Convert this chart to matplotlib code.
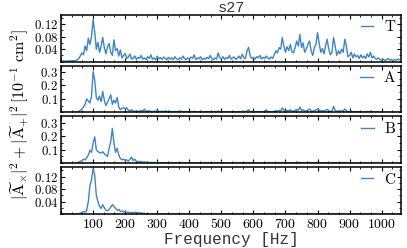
import numpy as np
import matplotlib
matplotlib.use("Agg")
import matplotlib.pyplot as plt
from matplotlib.ticker import MultipleLocator, AutoMinorLocator, FuncFormatter

plt.rcParams['mathtext.fontset'] = 'cm'
plt.rcParams['font.family'] = ['DejaVu Serif']

# frequency grid (Hz), 5 Hz spacing, 0..1055
freq = np.arange(0, 1060, 5)

T = [
 0.002, 0.002, 0.002, 0.002, 0.002, 0.002, 0.003, 0.002, 0.003, 0.004,
 0.006, 0.010, 0.018, 0.028, 0.022, 0.050, 0.035, 0.075, 0.055, 0.080,
 0.134, 0.095, 0.040, 0.062, 0.030, 0.050, 0.078, 0.045, 0.025, 0.048,
 0.058, 0.030, 0.020, 0.070, 0.035, 0.042, 0.018, 0.038, 0.012, 0.020,
 0.026, 0.010, 0.015, 0.024, 0.008, 0.012, 0.018, 0.007, 0.014, 0.010,
 0.020, 0.008, 0.012, 0.006, 0.016, 0.010, 0.022, 0.008, 0.012, 0.006,
 0.018, 0.009, 0.013, 0.007, 0.015, 0.010, 0.006, 0.014, 0.008, 0.012,
 0.007, 0.016, 0.009, 0.006, 0.013, 0.008, 0.018, 0.010, 0.006, 0.012,
 0.008, 0.015, 0.010, 0.022, 0.007, 0.012, 0.009, 0.016, 0.006, 0.011,
 0.008, 0.014, 0.009, 0.020, 0.010, 0.006, 0.012, 0.008, 0.028, 0.012,
 0.009, 0.016, 0.007, 0.013, 0.010, 0.020, 0.008, 0.012, 0.015, 0.007,
 0.012, 0.018, 0.009, 0.024, 0.012, 0.010, 0.035, 0.046, 0.018, 0.010,
 0.014, 0.008, 0.016, 0.012, 0.020, 0.009, 0.014, 0.010, 0.018, 0.012,
 0.008, 0.015, 0.010, 0.022, 0.035, 0.028, 0.045, 0.040, 0.077, 0.050,
 0.030, 0.048, 0.035, 0.055, 0.032, 0.028, 0.045, 0.066, 0.050, 0.087,
 0.045, 0.060, 0.030, 0.040, 0.055, 0.066, 0.035, 0.020, 0.045, 0.055,
 0.093, 0.060, 0.030, 0.042, 0.025, 0.050, 0.072, 0.040, 0.022, 0.030,
 0.077, 0.050, 0.020, 0.035, 0.025, 0.040, 0.030, 0.072, 0.050, 0.015,
 0.020, 0.030, 0.012, 0.025, 0.015, 0.020, 0.010, 0.022, 0.012, 0.018,
 0.010, 0.025, 0.015, 0.030, 0.012, 0.018, 0.010, 0.008, 0.012, 0.006,
 0.005, 0.008, 0.004, 0.006, 0.010, 0.005, 0.007, 0.004, 0.006, 0.005,
 0.008, 0.006,
]

A = [
 0.000, 0.000, 0.000, 0.000, 0.000, 0.000, 0.000, 0.000, 0.002, 0.003,
 0.005, 0.008, 0.015, 0.025, 0.040, 0.060, 0.100, 0.085, 0.070, 0.120,
 0.300, 0.240, 0.110, 0.090, 0.120, 0.080, 0.155, 0.090, 0.050, 0.075,
 0.100, 0.130, 0.060, 0.090, 0.070, 0.110, 0.040, 0.020, 0.030, 0.035,
 0.025, 0.035, 0.015, 0.012, 0.020, 0.010, 0.008, 0.012, 0.006, 0.010,
 0.015, 0.008, 0.025, 0.010, 0.006, 0.012, 0.008, 0.005, 0.010, 0.006,
 0.018, 0.008, 0.006, 0.010, 0.005, 0.012, 0.007, 0.005, 0.009, 0.006,
 0.005, 0.008, 0.004, 0.007, 0.005, 0.010, 0.006, 0.004, 0.008, 0.005,
 0.004, 0.007, 0.005, 0.009, 0.004, 0.006, 0.005, 0.008, 0.004, 0.006,
 0.005, 0.007, 0.004, 0.006, 0.005, 0.004, 0.007, 0.005, 0.010, 0.005,
 0.004, 0.006, 0.004, 0.007, 0.005, 0.006, 0.004, 0.005, 0.006, 0.004,
 0.005, 0.007, 0.004, 0.008, 0.005, 0.004, 0.012, 0.020, 0.007, 0.005,
 0.006, 0.004, 0.007, 0.005, 0.008, 0.004, 0.006, 0.005, 0.020, 0.006,
 0.004, 0.006, 0.005, 0.008, 0.012, 0.010, 0.015, 0.012, 0.033, 0.018,
 0.010, 0.015, 0.012, 0.020, 0.010, 0.009, 0.014, 0.022, 0.015, 0.040,
 0.014, 0.020, 0.010, 0.012, 0.018, 0.025, 0.012, 0.007, 0.015, 0.018,
 0.028, 0.018, 0.010, 0.014, 0.008, 0.016, 0.022, 0.012, 0.007, 0.010,
 0.044, 0.016, 0.007, 0.012, 0.008, 0.012, 0.010, 0.025, 0.015, 0.005,
 0.007, 0.010, 0.004, 0.008, 0.005, 0.007, 0.004, 0.007, 0.004, 0.006,
 0.004, 0.008, 0.005, 0.009, 0.004, 0.006, 0.004, 0.003, 0.004, 0.002,
 0.002, 0.003, 0.002, 0.002, 0.000, 0.000, 0.000, 0.000, 0.000, 0.000,
 0.000, 0.000,
]

B = [
 0.000, 0.000, 0.000, 0.000, 0.000, 0.000, 0.000, 0.000, 0.000, 0.001,
 0.003, 0.008, 0.015, 0.020, 0.030, 0.025, 0.040, 0.060, 0.095, 0.080,
 0.150, 0.195, 0.100, 0.085, 0.080, 0.075, 0.085, 0.070, 0.060, 0.050,
 0.110, 0.160, 0.257, 0.150, 0.080, 0.110, 0.060, 0.035, 0.025, 0.030,
 0.020, 0.025, 0.015, 0.030, 0.045, 0.020, 0.030, 0.012, 0.015, 0.010,
 0.012, 0.008, 0.010, 0.006, 0.008, 0.005, 0.007, 0.004, 0.006, 0.004,
 0.005, 0.003, 0.004, 0.003, 0.005, 0.003, 0.004, 0.002, 0.003, 0.002,
 0.003, 0.002, 0.003, 0.002, 0.002, 0.003, 0.002, 0.002, 0.003, 0.002,
 0.002, 0.003, 0.002, 0.002, 0.003, 0.002, 0.002, 0.002, 0.003, 0.002,
 0.002, 0.002, 0.003, 0.002, 0.002, 0.002, 0.003, 0.002, 0.002, 0.002,
 0.002, 0.003, 0.002, 0.002, 0.002, 0.003, 0.002, 0.002, 0.002, 0.002,
 0.003, 0.002, 0.002, 0.002, 0.003, 0.002, 0.002, 0.003, 0.002, 0.002,
 0.002, 0.002, 0.003, 0.002, 0.002, 0.002, 0.003, 0.002, 0.002, 0.002,
 0.002, 0.003, 0.002, 0.003, 0.004, 0.003, 0.004, 0.003, 0.006, 0.004,
 0.003, 0.004, 0.003, 0.005, 0.003, 0.003, 0.004, 0.005, 0.004, 0.006,
 0.004, 0.005, 0.003, 0.004, 0.005, 0.006, 0.004, 0.003, 0.004, 0.005,
 0.006, 0.005, 0.003, 0.004, 0.003, 0.004, 0.005, 0.004, 0.003, 0.003,
 0.005, 0.004, 0.003, 0.003, 0.003, 0.004, 0.003, 0.004, 0.003, 0.000,
 0.000, 0.000, 0.000, 0.000, 0.000, 0.000, 0.000, 0.000, 0.000, 0.000,
 0.000, 0.000, 0.000, 0.000, 0.000, 0.000, 0.000, 0.000, 0.000, 0.000,
 0.000, 0.000, 0.000, 0.000, 0.000, 0.000, 0.000, 0.000, 0.000, 0.000,
 0.000, 0.000,
]

C = [
 0.000, 0.000, 0.000, 0.000, 0.000, 0.000, 0.000, 0.000, 0.000, 0.000,
 0.000, 0.000, 0.003, 0.005, 0.008, 0.006, 0.012, 0.040, 0.090, 0.110,
 0.145, 0.125, 0.060, 0.040, 0.025, 0.018, 0.030, 0.020, 0.012, 0.010,
 0.015, 0.022, 0.030, 0.025, 0.018, 0.012, 0.015, 0.008, 0.010, 0.006,
 0.008, 0.005, 0.006, 0.004, 0.005, 0.004, 0.006, 0.004, 0.005, 0.003,
 0.004, 0.002, 0.002, 0.001, 0.001, 0.000, 0.000, 0.000, 0.000, 0.000,
] + [0.000] * 152

series = [T, A, B, C]
labels = ['T', 'A', 'B', 'C']
ylims = [(0, 0.15), (0, 0.345), (0, 0.345), (0, 0.15)]
yticks = [[0.04, 0.08, 0.12], [0.1, 0.2, 0.3], [0.1, 0.2, 0.3], [0.04, 0.08, 0.12]]

color = '#3d85c6'

fig, axes = plt.subplots(4, 1, sharex=True, figsize=(4.07, 2.48), dpi=100)
fig.subplots_adjust(left=0.150, right=0.985, top=0.940, bottom=0.137, hspace=0.086)

for ax, y, lab, yl, yt in zip(axes, series, labels, ylims, yticks):
    ax.plot(freq, y, color=color, lw=1.0, label=r'$\mathrm{%s}$' % lab)
    ax.set_xlim(0, 1060)
    ax.set_ylim(*yl)
    ax.set_yticks(yt)
    ax.yaxis.set_minor_locator(AutoMinorLocator(2))
    ax.xaxis.set_major_locator(MultipleLocator(100))
    ax.xaxis.set_minor_locator(AutoMinorLocator(3))
    ax.yaxis.set_major_formatter(FuncFormatter(lambda v, p: r'$%g$' % v))
    ax.xaxis.set_major_formatter(FuncFormatter(lambda v, p: r'$%d$' % v if v > 0 else ''))
    ax.tick_params(which='both', direction='in', top=True, right=True, pad=2)
    ax.tick_params(axis='x', labelsize=10)
    ax.tick_params(axis='y', labelsize=9.3)
    ax.tick_params(which='major', length=3, width=0.8)
    ax.tick_params(which='minor', length=1.5, width=0.6)
    for s in ax.spines.values():
        s.set_linewidth(1.1)
    ax.legend(loc='upper right', frameon=False, fontsize=11, handlelength=0.8,
              handletextpad=0.7, borderaxespad=0.1, borderpad=0.2)

axes[0].set_title('s27', family='Liberation Mono', fontsize=11, pad=2, color='#333333')
axes[-1].set_xlabel('Frequency [Hz]', family='Liberation Mono', fontsize=11.5, labelpad=1,
                    color='#333333')
fig.text(0.047, (0.940 + 0.137) / 2,
         r'$|\widetilde{\mathrm{A}}_{\times}|^2 + |\widetilde{\mathrm{A}}_{+}|^2\,[10^{-1}\ \mathrm{cm}^2]$',
         rotation=90, va='center', ha='center', fontsize=11.5)

fig.savefig('out.png', dpi=100)
